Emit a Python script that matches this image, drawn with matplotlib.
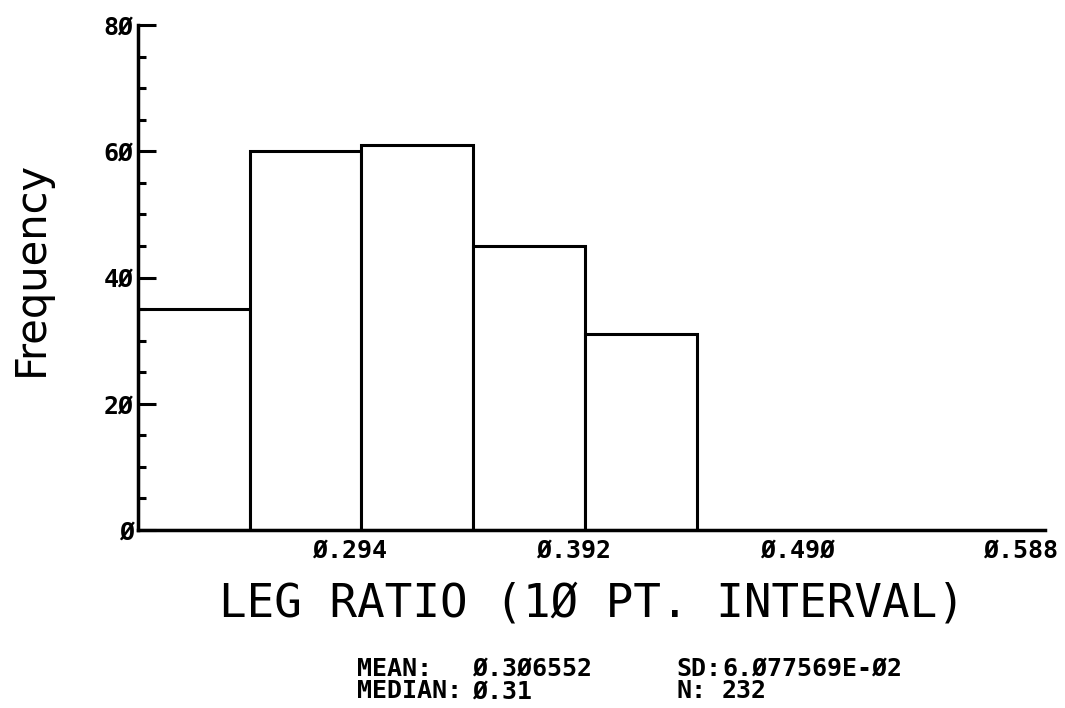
import matplotlib
matplotlib.use("Agg")
import matplotlib.pyplot as plt
from matplotlib.ticker import MultipleLocator

bin_edges = [0.201, 0.250, 0.299, 0.348, 0.397, 0.446]
counts = [35, 60, 61, 45, 31]
xtick_vals = [0.294, 0.392, 0.490, 0.588]
xtick_labels = ["Ø.294", "Ø.392", "Ø.49Ø", "Ø.588"]
ytick_vals = [0, 20, 40, 60, 80]
ytick_labels = ["Ø", "2Ø", "4Ø", "6Ø", "8Ø"]
stat_names_left = ["MEAN:", "MEDIAN:"]
stat_values_left = ["Ø.3Ø6552", "Ø.31"]
stat_names_right = ["SD:", "N:"]
stat_values_right = ["6.Ø77569E-Ø2", "232"]

fig = plt.figure(figsize=(10.65, 7.08), dpi=100)
ax = fig.add_axes([138/1065, 1-530/708, (1045-138)/1065, (530-25)/708])

widths = [bin_edges[i+1]-bin_edges[i] for i in range(len(counts))]
ax.bar(bin_edges[:-1], counts, width=widths, align="edge",
       facecolor="white", edgecolor="black", linewidth=2.2)

ax.set_xlim(0.2011, 0.5985)
ax.set_ylim(0, 80)
for s in ["top", "right"]:
    ax.spines[s].set_visible(False)
for s in ["left", "bottom"]:
    ax.spines[s].set_linewidth(2.5)

mono = ["DejaVu Sans Mono"]
ax.set_yticks(ytick_vals)
ax.set_yticklabels(ytick_labels, family=mono, fontweight="bold", fontsize=18)
ax.yaxis.set_minor_locator(MultipleLocator(5))
ax.tick_params(axis="y", which="major", direction="in", length=13, width=2.2, pad=3)
ax.tick_params(axis="y", which="minor", direction="in", length=6, width=2.2)

ax.set_xticks(xtick_vals)
ax.set_xticklabels(xtick_labels, family=mono, fontweight="bold", fontsize=18)
ax.tick_params(axis="x", which="both", length=0, pad=6)

fig.text(31/1065, 1-268/708, "Frequency", rotation=90, ha="center", va="center",
         fontsize=30, family=["DejaVu Sans"])
fig.text(592/1065, 1-604/708, "LEG RATIO (1Ø PT. INTERVAL)", ha="center", va="center",
         fontsize=33, family=mono)

ycen = 1 - 680/708
blocks = [(357, stat_names_left), (472, stat_values_left),
          (676, stat_names_right), (722, stat_values_right)]
for px, lines in blocks:
    fig.text(px/1065, ycen, "\n".join(lines), ha="left", va="center",
             fontsize=18, family=mono, fontweight="bold", linespacing=0.92)

fig.savefig("out.png", dpi=100, facecolor="white")
